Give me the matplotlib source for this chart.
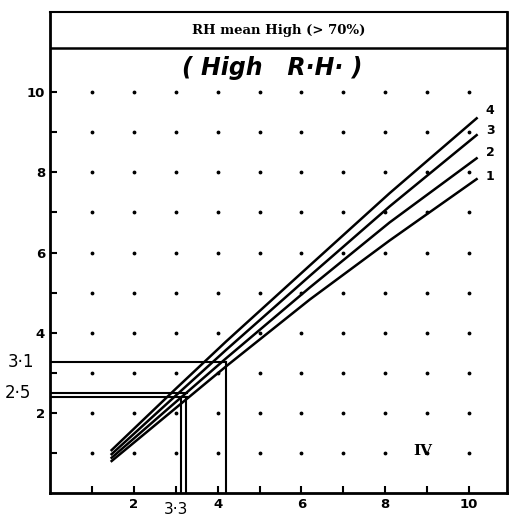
import matplotlib.pyplot as plt
import numpy as np

x_vals = [1.45, 3.0, 4.2, 6.2, 8.1, 10.2]
curves = {
    "4": [1.05, 2.60, 3.78, 5.68, 7.48, 9.37],
    "3": [0.95, 2.43, 3.57, 5.42, 7.15, 8.95],
    "2": [0.86, 2.27, 3.36, 5.13, 6.75, 8.37],
    "1": [0.78, 2.12, 3.16, 4.83, 6.30, 7.85],
}
curve_label_y = {"4": 9.55, "3": 9.05, "2": 8.5, "1": 7.9}

# reading lines drawn on the chart
read_h = [3.27, 2.50, 2.40]
read_h_end = [4.21, 3.28, 3.28]
read_v = [4.21, 3.12, 3.25]
read_v_top = [3.27, 2.40, 2.40]

fig = plt.figure(figsize=(5.09, 5.24), dpi=100)
ax = fig.add_axes([0.098, 0.059, 0.898, 0.918])
ax.set_xlim(0, 10.9)
ax.set_ylim(0, 12.0)

# dot grid
gx, gy = np.meshgrid(np.arange(1, 11), np.arange(1, 11))
ax.plot(gx.ravel(), gy.ravel(), 'k.', ms=3.5, ls='none')

for name, yv in curves.items():
    ax.plot(x_vals, yv, 'k-', lw=1.8, solid_capstyle='butt')
    ax.text(10.5, curve_label_y[name], name, fontsize=9, fontweight='bold',
            ha='center', va='center')

for y, xe in zip(read_h, read_h_end):
    ax.plot([0, xe], [y, y], 'k-', lw=1.5)
for x, yt in zip(read_v, read_v_top):
    ax.plot([x, x], [0, yt], 'k-', lw=1.5)

# title box
ax.axhline(11.1, color='k', lw=1.8)
ax.text(5.45, 11.55, "RH mean High (> 70%)", ha='center', va='center',
        fontsize=9.5, fontweight='bold', family='DejaVu Serif')
ax.text(5.3, 10.6, "( High   R·H· )", ha='center', va='center', fontsize=17,
        style='italic', fontweight='bold', family='DejaVu Sans')
ax.text(8.9, 1.05, "IV", ha='center', va='center', fontsize=11,
        fontweight='bold', family='DejaVu Serif')

# handwritten readings
ax.text(-0.7, 3.27, "3·1", ha='center', va='center', fontsize=12)
ax.text(-0.75, 2.5, "2·5", ha='center', va='center', fontsize=12)
ax.text(3.0, -0.42, "3·3", ha='center', va='center', fontsize=11)

for s in ['left', 'bottom', 'right']:
    ax.spines[s].set_linewidth(2)
ax.spines['top'].set_linewidth(1.5)

ax.set_xticks(range(1, 11))
ax.set_xticklabels([str(v) if v % 2 == 0 else '' for v in range(1, 11)])
ax.set_yticks(range(1, 11))
ax.set_yticklabels([str(v) if v % 2 == 0 else '' for v in range(1, 11)])
ax.tick_params(direction='in', length=5, width=1.5, labelsize=9.5)
for lab in ax.get_xticklabels() + ax.get_yticklabels():
    lab.set_fontweight('bold')

plt.savefig("out.png", dpi=100)
